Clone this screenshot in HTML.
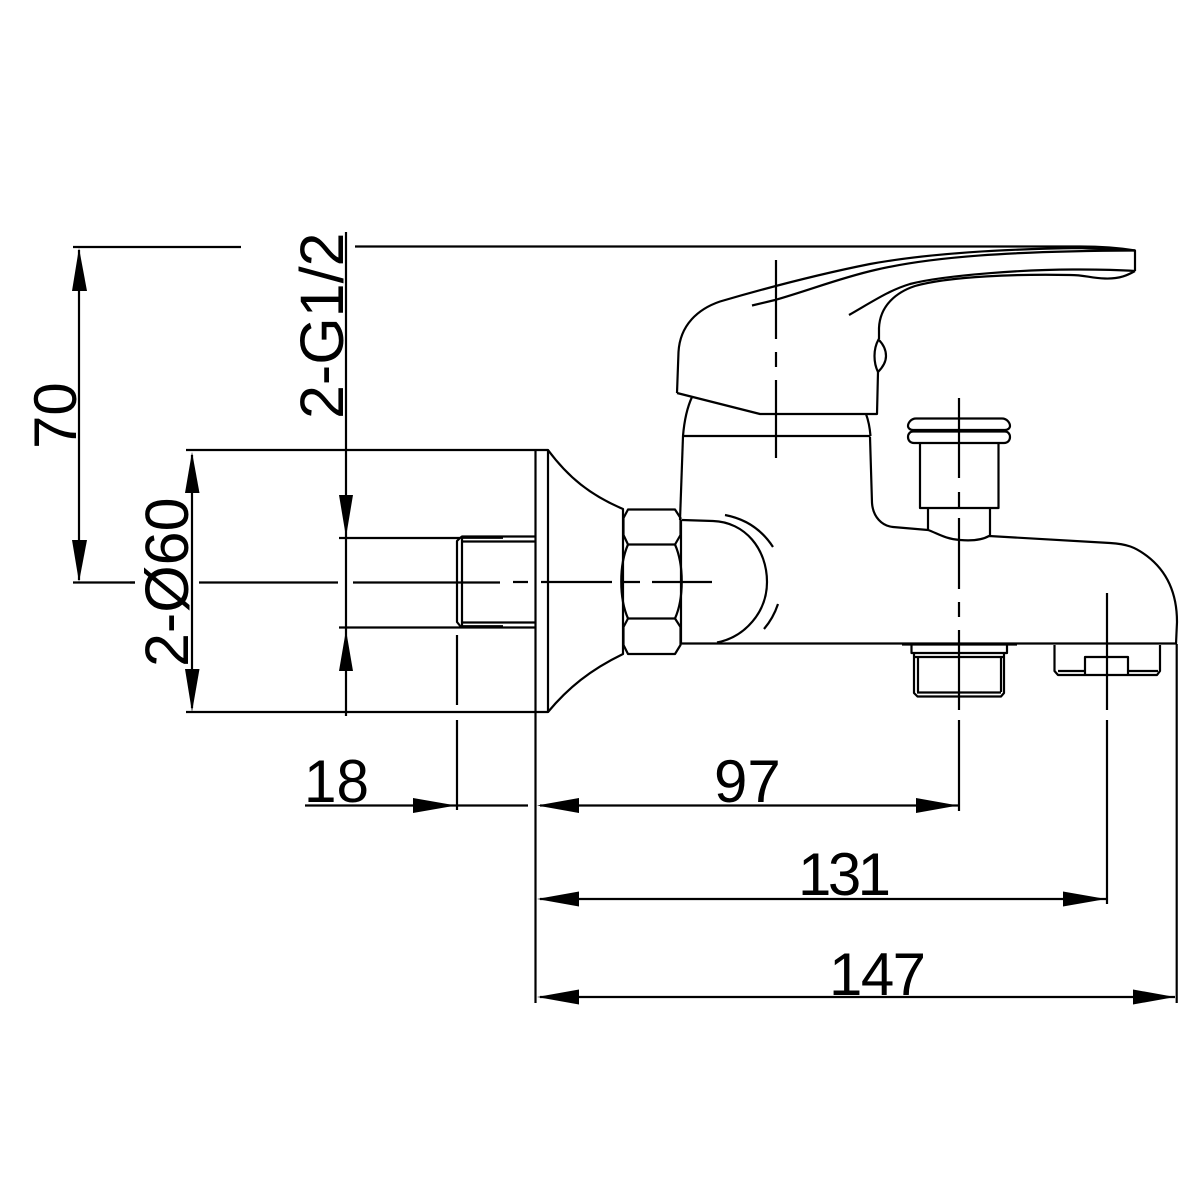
<!DOCTYPE html>
<html><head><meta charset="utf-8"><style>html,body{margin:0;padding:0;background:#fff}svg{display:block}text{font-family:"Liberation Sans",sans-serif;font-size:60px;fill:#000}</style></head>
<body>
<svg width="1200" height="1200" viewBox="0 0 1200 1200" xmlns="http://www.w3.org/2000/svg">
<rect width="1200" height="1200" fill="#fff"/>
<g fill="none" stroke="#000" stroke-width="2.2" stroke-linejoin="round">
<!-- handle -->
<path d="M355 246.5H1080C1100 246.5 1120 248 1135 250.5V271"/>
<path d="M677 393L678.500 352C680 325 698 309 720 301.500C780 284 830 272 870 264C930 253 1010 249 1080 248L1135 250.500"/>
<path d="M752 305.500L775 300C810 290 840 278 875 270C930 257 1010 251 1135 250.500"/>
<path d="M849 315C875 300 890 290 910 284C945 275 1030 269 1080 269.500C1100 269.500 1120 270 1135 271"/>
<path d="M879 339V328C880 305 897 292 915 286C950 276 1020 274 1070 275C1085 275 1090 278 1105 278.500C1120 279 1128 275 1135 271"/>
<path d="M878.500 339.500C883 344 886 350 886 356C886 362 882 368 878 372C876 368 874.500 362 874.500 356C874.500 350 876 344 878.500 339.500Z"/>
<path d="M878 372L877 414H760L677 393"/>
<path d="M692 397C686 410 684 424 683 436"/>
<path d="M866 414C869 422 870 430 870.500 436"/>
<path d="M682 436H870.500"/>
<path d="M683 436L680 520"/>
<!-- body -->
<path d="M870 437L872 503C873 517 882 526 893 527L928 530C937 533 945 539 960 540C972 541 982 540 989 536L1110 543C1127 544 1135 547 1147 556C1168 572 1177 595 1177 622L1176 644"/>
<path d="M681 643.500H1176"/>
<path d="M681 520V643.500"/>
<path d="M682 520L713 521C745 522 767 549 767 582C767 612 745 637 717 642.500"/>
<path d="M725 515C746 519 762 530 773 547"/>
<path d="M778 604C775 613 770 622 764 629"/>
<!-- cap -->
<path d="M916 418.500H1002C1007 418.500 1010 423 1010 426C1010 428 1008 430 1005 430H913C910 430 908 428 908 426C908 423 911 418.500 916 418.500Z"/>
<path d="M913 431.500H1005C1008 431.500 1010 434 1010 437C1010 440 1008 443 1004 443H914C910 443 908 440 908 437C908 434 910 431.500 913 431.500Z"/>
<path d="M920 443V508H998.500V443"/>
<path d="M928 508V530M990 508V536"/>
<!-- lower fittings -->
<path d="M902 644.500H1017"/>
<path d="M911.500 645V653H1007V645"/>
<path d="M914 653V693L917.500 696.500H1001L1004 693V653"/>
<path d="M918 657V692M1001 657V692M914 657H1004M917 692.500H1001"/>
<path d="M1054.500 645V671L1058 675H1157L1160 671V645"/>
<path d="M1058 671H1085M1128 671H1158"/>
<path d="M1085 674V657H1128V674"/>
<!-- wall flange + nut -->
<path d="M186 450H548V712H186"/>
<path d="M548 450C568 477 590 495 623 509V654C590 670 568 688 548 712"/>
<path d="M535.500 450V1003"/>
<path d="M628 509.500H675L680.500 518V535L675 544.500H628L623.500 535V518Z"/>
<path d="M628 618.500H675L680.500 627V645L675 654H628L623.500 645V627Z"/>
<path d="M628 544.500C619 565 619 598 628 618.500"/>
<path d="M675 544.500C684 565 684 598 675 618.500"/>
<!-- threads -->
<path d="M339 538H460L462 536.500H535"/>
<path d="M462 541.500H535"/>
<path d="M339 627.500H535"/>
<path d="M462 622.500H535"/>
<path d="M460 538L457 541V622L461 627"/>
<path d="M462 537V627"/>
<path d="M461 537.500H503M461 626.500H503" stroke-width="2.8"/>
<!-- centre lines -->
<path d="M130 582.500H135M199 582.500H338M353 582.500H500M513 582H528M541 582H612M623 582H640M652 582H712"/>
<path d="M776 260V339M776 352V367M776 380V458"/>
<path d="M959 398V478M959 492V507M959 518V589M959 602V617M959 630V710M959 720V811"/>
<path d="M1107 593V710M1107 720V904"/>
<path d="M457 635V705M457 720V810"/>
<path d="M1176.700 644V1003"/>
<!-- dimension lines -->
<path d="M73 247H241"/>
<path d="M73 582.500H135"/>
<path d="M79 250V580"/>
<path d="M192 455V708"/>
<path d="M346 232V716"/>
<path d="M305 805.500H456M457 805.500H528"/>
<path d="M540 805.500H958"/>
<path d="M540 899H1106"/>
<path d="M540 997H1175"/>
</g>
<!-- arrowheads -->
<g fill="#000">
<polygon points="79,248 72,291 87,291"/>
<polygon points="79,582 72,540 87,540"/>
<polygon points="192,452 185,493 199.500,493"/>
<polygon points="192,712 185,669 199.500,669"/>
<polygon points="346,537 339,495 353,495"/>
<polygon points="346,630 339,671 353,671"/>
<polygon points="456,805.500 413,798 413,813"/>
<polygon points="537,805.500 579,798 579,813"/>
<polygon points="958,805.500 916,798 916,813"/>
<polygon points="537,899 579,891.500 579,906.500"/>
<polygon points="1106,899 1063,891.500 1063,906.500"/>
<polygon points="537,997 579,989.500 579,1004.500"/>
<polygon points="1175,997 1133,989.500 1133,1004.500"/>
</g>
<!-- labels -->
<text x="304" y="802" textLength="65" lengthAdjust="spacingAndGlyphs">18</text>
<text x="714" y="802">97</text>
<text x="798" y="895" textLength="93" lengthAdjust="spacing">131</text>
<text x="829" y="995" textLength="97" lengthAdjust="spacing">147</text>
<text transform="translate(76 449) rotate(-90)">70</text>
<text transform="translate(343 419) rotate(-90)" style="font-size:61px">2-G1/2</text>
<text transform="translate(188 667) rotate(-90)" style="font-size:61px">2-Ø60</text>
</svg>
</body></html>
